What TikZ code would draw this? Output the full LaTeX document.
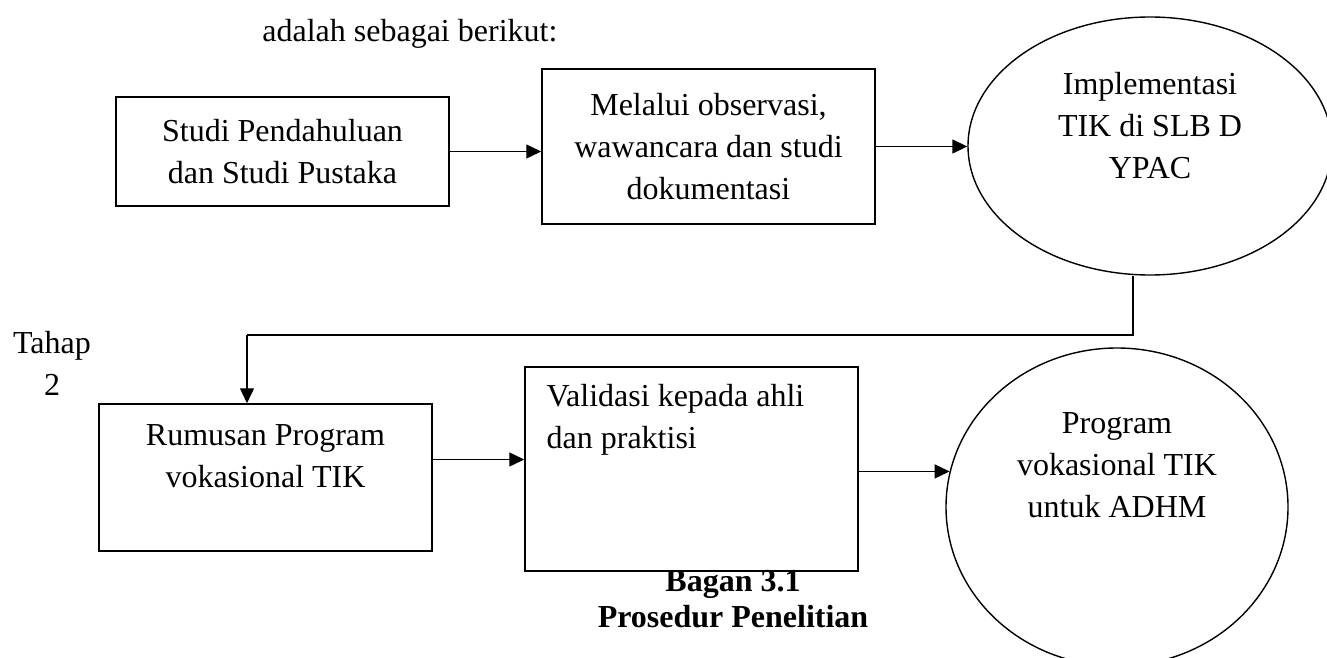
\documentclass[tikz,border=0pt]{standalone}
\usepackage{fontspec}
\setmainfont{Liberation Serif}
\usetikzlibrary{arrows.meta,shapes.geometric}
\begin{document}
\begin{tikzpicture}[x=0.5pt,y=-0.5pt,
    every node/.style={font=\fontsize{16pt}{21pt}\selectfont,align=center,inner sep=0pt},
    stepbox/.style={draw,line width=0.75pt,rectangle,minimum width=166.5pt},
    hasil/.style={draw,line width=0.7pt,ellipse},
    panah/.style={line width=0.7pt,-{Triangle[length=7.5pt,width=7pt]}}]
    \useasboundingbox (0,0) rectangle (1327,658);
    \node (pengantar) [anchor=base west] at (262,42) {adalah sebagai berikut:};
    \node[stepbox,minimum height=54.5pt] (studi) at (282.5,151.5) {Studi Pendahuluan\\dan Studi Pustaka};
    \node[stepbox,minimum height=77.5pt] (metode) at (708.5,146.5) {Melalui observasi,\\wawancara dan studi\\dokumentasi};
    \node[hasil,minimum width=182pt,minimum height=129pt] (impl) at (1150,146) {Implementasi\\TIK di SLB D\\YPAC\\\mbox{}};
    \node (tahap) at (52,363) {Tahap\\2};
    \node[stepbox,minimum height=73.5pt] (rumus) at (265.5,477.5) {Rumusan Program\\vokasional TIK\\\mbox{}};
    \node[stepbox,minimum height=102pt] (valid) at (691.5,469) {};
    \node (validtext) [anchor=north west,align=left] at ([xshift=11pt,yshift=-9pt]valid.north west) {Validasi kepada ahli\\dan praktisi};
    \node[hasil,minimum width=171pt,minimum height=159pt] (program) at (1117,507) {Program\\vokasional TIK\\untuk ADHM\\\mbox{}\\\mbox{}};
    \node (judul) [font=\fontsize{16pt}{18pt}\selectfont\bfseries] at (733,599) {Bagan 3.1\\Prosedur Penelitian};
    \coordinate (belok) at (247,335);
    \draw[panah] (studi.east) -- (studi.east -| metode.west);
    \draw[panah] (metode.east) -- (metode.east -| impl.west);
    \draw[line width=0.7pt] ([xshift=-8.5pt]impl.south) |- (belok);
    \draw[panah] (belok) -- (belok |- rumus.north);
    \draw[panah] ([yshift=9pt]rumus.east) -- ([yshift=9pt]rumus.east -| valid.west);
    \draw[panah] (valid.east |- program.168) -- (program.168);
\end{tikzpicture}
\end{document}
